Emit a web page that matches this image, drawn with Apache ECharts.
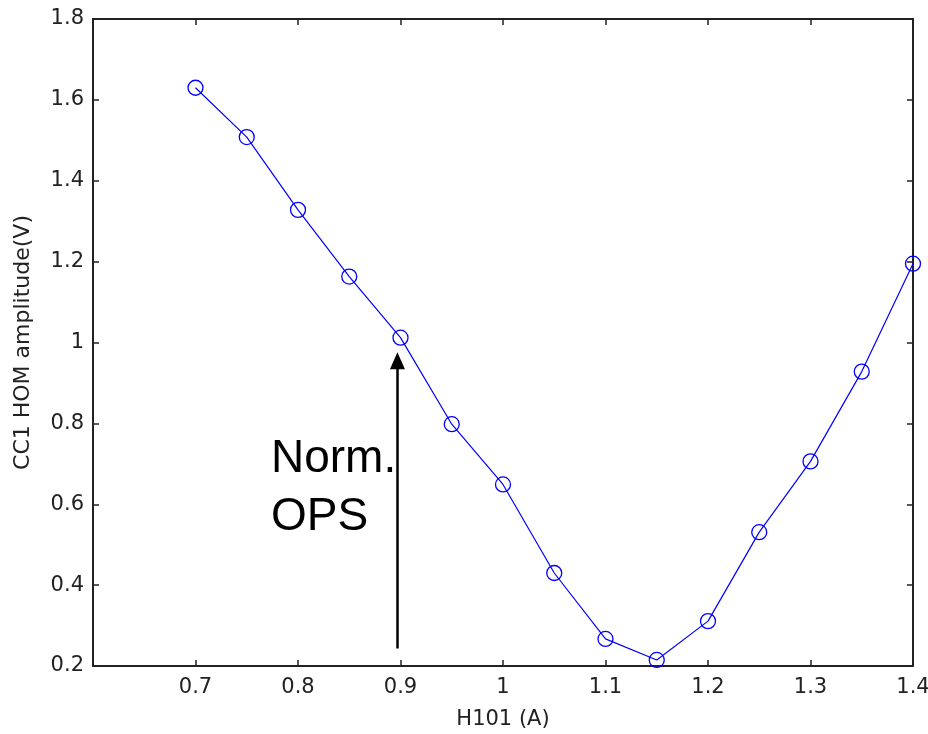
<!DOCTYPE html>
<html>
  <head>
    <title>CC1 HOM amplitude vs H101</title>
    <meta charset='utf-8' />
    <style>
      html, body { margin: 0; padding: 0; background: #fff; }
    </style>
  </head>
  <body>
    <div id="content" style="width: 928px; height: 734px;"></div>

    <script src="https://cdn.jsdelivr.net/npm/echarts@6/dist/echarts.min.js"></script>
    <script type="text/javascript">
      // H101 current (A)
      var current = [0.7, 0.75, 0.8, 0.85, 0.9, 0.95, 1.0, 1.05, 1.1, 1.15, 1.2, 1.25, 1.3, 1.35, 1.4];
      // CC1 HOM amplitude (V)
      var amplitude = [1.63, 1.508, 1.328, 1.163, 1.012, 0.798, 0.649, 0.43, 0.267, 0.215, 0.311, 0.531, 0.706, 0.928, 1.195];

      // arrow marking the normal operating point
      var arrowX = 0.897;
      var arrowFrom = 0.243;
      var arrowTo = 0.955;
      var noteText = 'Norm.\nOPS';

      var points = [];
      for (var i = 0; i < current.length; i++) {
        points.push([current[i], amplitude[i]]);
      }

      var tickFont = { color: '#222', fontFamily: 'DejaVu Sans', fontSize: 21 };

      function xAxis(show) {
        return {
          type: 'value', min: 0.6, max: 1.4, interval: 0.1,
          position: show ? 'bottom' : 'top',
          name: show ? 'H101 (A)' : '',
          nameLocation: 'middle', nameGap: 43,
          nameTextStyle: { color: '#222', fontFamily: 'DejaVu Sans', fontSize: 21 },
          axisLine: { show: true, onZero: false, lineStyle: { color: '#222', width: 2 } },
          axisTick: { show: true, inside: true, length: 6, lineStyle: { color: '#222', width: 1.5 } },
          axisLabel: {
            show: show, margin: 11,
            formatter: function (v) { return v <= 0.6 ? '' : String(+v.toFixed(1)); },
            color: tickFont.color, fontFamily: tickFont.fontFamily, fontSize: tickFont.fontSize
          },
          splitLine: { show: false }
        };
      }

      function yAxis(show) {
        return {
          type: 'value', min: 0.2, max: 1.8, interval: 0.2,
          position: show ? 'left' : 'right',
          name: show ? 'CC1 HOM amplitude(V)' : '',
          nameLocation: 'middle', nameGap: 59,
          nameTextStyle: { color: '#222', fontFamily: 'DejaVu Sans', fontSize: 22 },
          axisLine: { show: true, onZero: false, lineStyle: { color: '#222', width: 2 } },
          axisTick: { show: true, inside: true, length: 6, lineStyle: { color: '#222', width: 1.5 } },
          axisLabel: {
            show: show, margin: 9,
            formatter: function (v) { return String(+v.toFixed(1)); },
            color: tickFont.color, fontFamily: tickFont.fontFamily, fontSize: tickFont.fontSize
          },
          splitLine: { show: false }
        };
      }

      var myChart = echarts.init(document.getElementById('content'));
      var options = {
        animation: false,
        backgroundColor: '#fff',
        grid: { left: 93, right: 15, top: 19, bottom: 68, outerBoundsMode: 'none', containLabel: false },
        xAxis: [xAxis(true), xAxis(false)],
        yAxis: [yAxis(true), yAxis(false)],
        series: [{
          name: 'amplitude',
          type: 'line',
          data: points,
          symbol: 'circle',
          symbolSize: 15,
          itemStyle: { color: 'rgba(0,0,0,0)', borderColor: '#0000ff', borderWidth: 1.3 },
          lineStyle: { color: '#0000ff', width: 1.2 },
          z: 3
        }, {
          name: 'note',
          type: 'line',
          data: [],
          markLine: {
            silent: true,
            symbol: ['none', 'triangle'],
            symbolSize: [15, 17],
            label: { show: false },
            lineStyle: { color: '#000', width: 2.5, type: 'solid' },
            data: [[{ coord: [arrowX, arrowFrom] }, { coord: [arrowX, arrowTo] }]]
          }
        }],
        graphic: [{
          type: 'text',
          left: 271,
          top: 430,
          style: {
            text: noteText,
            fill: '#000',
            font: '46px "Liberation Sans"',
            lineHeight: 58
          }
        }]
      };
      myChart.setOption(options);
    </script>
  </body>
</html>
